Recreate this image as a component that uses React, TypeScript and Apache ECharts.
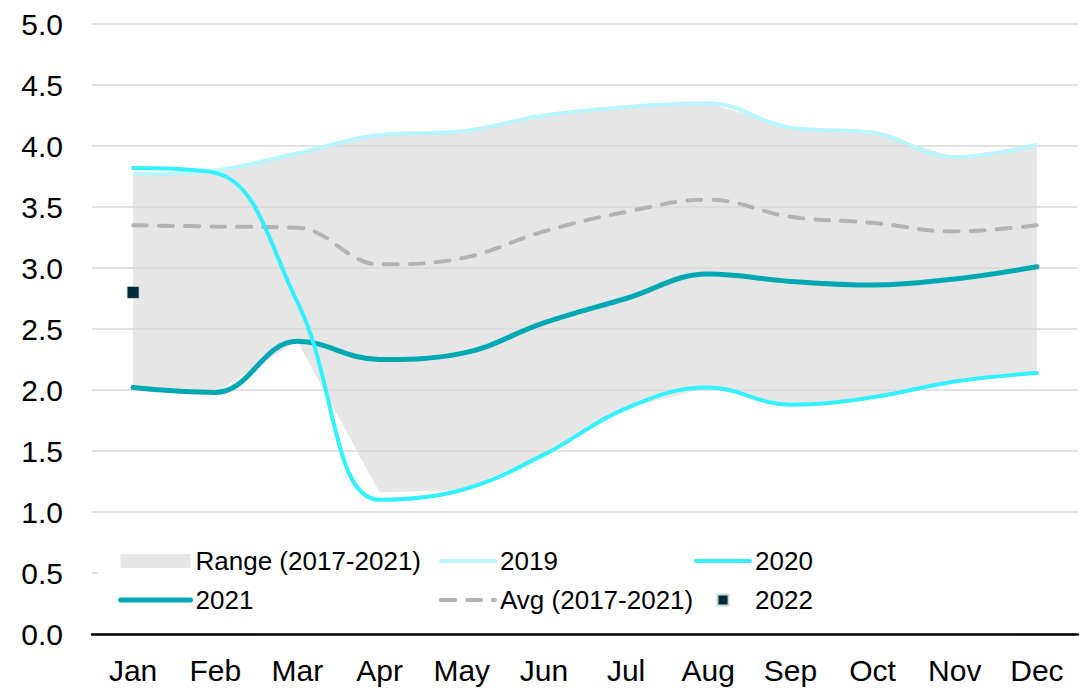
import React, { useEffect, useRef } from "react";
import * as echarts from "echarts";

const months = ["Jan", "Feb", "Mar", "Apr", "May", "Jun", "Jul", "Aug", "Sep", "Oct", "Nov", "Dec"];
const rangeLow = [2.02, 1.98, 2.4, 1.16, 1.18, 1.47, 1.85, 2.02, 1.88, 1.94, 2.07, 2.14];
const rangeHigh = [3.77, 3.8, 3.94, 4.09, 4.12, 4.25, 4.32, 4.35, 4.15, 4.11, 3.91, 4.01];
const y2019 = [3.77, 3.8, 3.94, 4.09, 4.12, 4.25, 4.32, 4.35, 4.15, 4.11, 3.91, 4.01];
const y2020 = [3.82, 3.78, 2.72, 1.1, 1.18, 1.47, 1.85, 2.02, 1.88, 1.94, 2.07, 2.14];
const y2021 = [2.02, 1.98, 2.4, 2.25, 2.3, 2.55, 2.75, 2.95, 2.89, 2.86, 2.91, 3.01];
const avg = [3.35, 3.34, 3.33, 3.03, 3.08, 3.3, 3.46, 3.56, 3.42, 3.37, 3.3, 3.35];
const y2022 = [2.8, null, null, null, null, null, null, null, null, null, null, null];

const FONT = "'Liberation Sans', Arial, sans-serif";

export default function App() {
  const ref = useRef<HTMLDivElement>(null);
  useEffect(() => {
    if (!ref.current) return;
    const chart = echarts.init(ref.current, null, { renderer: "svg" });
    const rangeDiff = rangeHigh.map((v, i) => +(v - rangeLow[i]).toFixed(3));
    const legendText = { fontSize: 26, color: "#000", fontFamily: FONT };
    const hideSym = { opacity: 0, borderWidth: 0 };
    const legendBase = {
      orient: "vertical",
      top: 548,
      padding: 0,
      itemHeight: 14,
      itemGap: 13,
      z: 10,
      textStyle: legendText,
    };
    chart.setOption({
      animation: false,
      backgroundColor: "#fff",
      grid: { left: 92, right: 10, top: 24, bottom: 56 },
      xAxis: {
        type: "category",
        data: months,
        boundaryGap: true,
        z: 1,
        axisLine: { lineStyle: { color: "#000", width: 2.5 } },
        axisTick: { show: false },
        axisLabel: { fontSize: 30, color: "#000", fontFamily: FONT, margin: 21 },
      },
      yAxis: {
        type: "value",
        min: 0,
        max: 5,
        interval: 0.5,
        z: 1,
        axisLine: { show: false },
        axisTick: { show: false },
        splitLine: { lineStyle: { color: "#d9d9d9", width: 1.5 } },
        axisLabel: {
          fontSize: 30,
          color: "#000",
          fontFamily: FONT,
          margin: 29,
          formatter: (v: number) => v.toFixed(1),
        },
      },
      graphic: [
        {
          type: "rect",
          z: 5,
          shape: { x: 98, y: 530, width: 980, height: 95 },
          style: { fill: "#fff" },
        },
      ],
      legend: [
        {
          ...legendBase,
          left: 118,
          itemWidth: 70,
          data: [
            { name: "Range (2017-2021)", icon: "rect" },
            { name: "2021", itemStyle: hideSym, lineStyle: { width: 5, cap: "round" } },
          ],
        },
        {
          ...legendBase,
          left: 439,
          itemWidth: 54,
          data: [
            { name: "2019", itemStyle: hideSym, lineStyle: { width: 4, cap: "round" } },
            { name: "Avg (2017-2021)", itemStyle: hideSym, lineStyle: { width: 4, cap: "round" } },
          ],
        },
        {
          ...legendBase,
          left: 694,
          itemWidth: 54,
          data: [
            { name: "2020", itemStyle: hideSym, lineStyle: { width: 4, cap: "round" } },
            { name: "2022" },
          ],
        },
      ],
      series: [
        {
          name: "rangeLow",
          type: "line",
          data: rangeLow,
          stack: "range",
          symbol: "none",
          lineStyle: { width: 0, color: "transparent" },
          z: 0,
          silent: true,
        },
        {
          name: "Range (2017-2021)",
          type: "line",
          data: rangeDiff,
          stack: "range",
          symbol: "none",
          itemStyle: { color: "#e6e6e6" },
          lineStyle: { width: 0, color: "#e6e6e6" },
          areaStyle: { color: "#e6e6e6", opacity: 1 },
          z: 0,
          silent: true,
        },
        {
          name: "Avg (2017-2021)",
          type: "line",
          data: avg,
          smooth: 0.4,
          symbol: "none",
          itemStyle: { color: "#b3b3b3" },
          lineStyle: { color: "#b3b3b3", width: 4, type: [14, 12], cap: "round" },
          z: 2,
        },
        {
          name: "2019",
          type: "line",
          data: y2019,
          smooth: 0.4,
          symbol: "none",
          itemStyle: { color: "#b8f6fc" },
          lineStyle: { color: "#b8f6fc", width: 4 },
          z: 2,
        },
        {
          name: "2021",
          type: "line",
          data: y2021,
          smooth: 0.4,
          symbol: "none",
          itemStyle: { color: "#00a8b3" },
          lineStyle: { color: "#00a8b3", width: 5, cap: "round" },
          z: 2,
        },
        {
          name: "2020",
          type: "line",
          data: y2020,
          smooth: 0.4,
          symbol: "none",
          itemStyle: { color: "#33f0fd" },
          lineStyle: { color: "#33f0fd", width: 4, cap: "round" },
          z: 2,
        },
        {
          name: "2022",
          type: "line",
          data: y2022,
          symbol: "rect",
          symbolSize: 12,
          showSymbol: true,
          itemStyle: { color: "#002b3a", borderColor: "#d0d8da", borderWidth: 0.8 },
          lineStyle: { width: 0, color: "transparent" },
          z: 3,
        },
      ],
    });
    return () => chart.dispose();
  }, []);
  return (
    <div
      ref={ref}
      style={{ position: "fixed", left: 0, top: 0, width: 1088, height: 690, background: "#fff" }}
    />
  );
}
